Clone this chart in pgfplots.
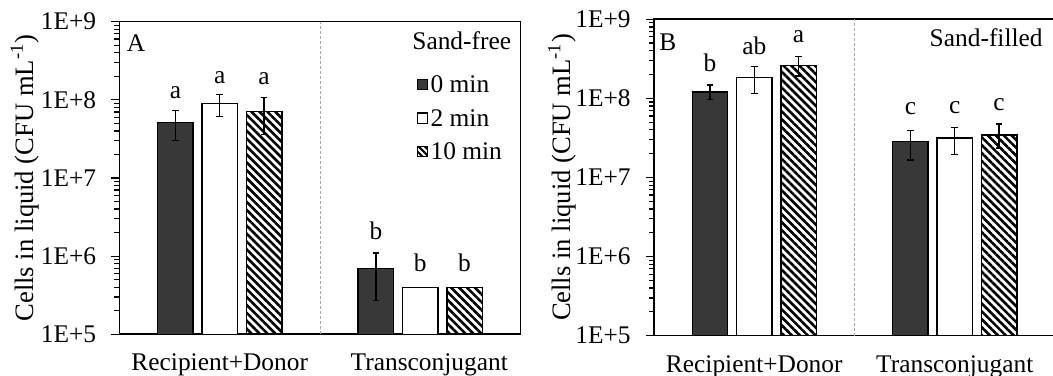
\documentclass[border=0pt]{standalone}
\usepackage{fontspec}
\setmainfont{Liberation Serif}
\usepackage{pgfplots}
\pgfplotsset{compat=1.18}
\usepackage{pgfplotstable}
\usetikzlibrary{patterns.meta}
\definecolor{darkbar}{HTML}{383838}

% Panel A (sand-free)
\pgfplotstableread{
x y ep em
-0.221 5.1e7 2.2e7 2.1e7
0.779 7.0e5 4.0e5 4.3e5
}\Aa
\pgfplotstableread{
x y ep em
0 8.9e7 2.8e7 2.8e7
1 4.0e5 0 0
}\Ab
\pgfplotstableread{
x y ep em
0.221 7.1e7 3.7e7 3.5e7
1.221 4.0e5 0 0
}\Ac
\pgfplotstableread{
x y lab
-0.221 1.05e8 a
0 1.63e8 a
0.221 1.55e8 a
0.779 1.64e6 b
1 6.3e5 b
1.221 6.3e5 b
}\Alab

% Panel B (sand-filled)
\pgfplotstableread{
x y ep em
-0.221 1.2e8 0.28e8 0.24e8
0.779 2.83e7 1.1e7 1.16e7
}\Ba
\pgfplotstableread{
x y ep em
0 1.83e8 0.69e8 0.67e8
1 3.14e7 1.13e7 1.2e7
}\Bb
\pgfplotstableread{
x y ep em
0.221 2.62e8 0.75e8 0.70e8
1.221 3.46e7 1.26e7 1.11e7
}\Bc
\pgfplotstableread{
x y lab
-0.221 2.18e8 b
0 3.54e8 ab
0.221 5.06e8 a
0.779 6.17e7 c
1 6.5e7 c
1.221 7.1e7 c
}\Blab

\begin{document}
\fontsize{12.7}{15.2}\selectfont
\begin{tikzpicture}
\useasboundingbox (0,0) rectangle (526.5pt,187.5pt);

% ---------- Panel A ----------
\begin{axis}[
  scale only axis, width=200.5pt, height=156.3pt,
  at={(59.75pt,20.35pt)}, anchor=south west,
  ymode=log, log origin=infty, ymin=1e5, ymax=1e9, xmin=-0.5, xmax=1.5,
  xtick={0,1}, xticklabels={Recipient+Donor, \hspace*{9pt}Transconjugant},
  ytick={1e5,1e6,1e7,1e8,1e9}, yticklabels={1E+5,1E+6,1E+7,1E+8,1E+9},
  ytick pos=left, tick align=outside,
  major x tick style={draw=none},
  major tick length=4pt, minor tick length=2.5pt,
  tick style={black, line width=0.6pt},
  axis line style={line width=0.8pt},
  xticklabel style={anchor=base, inner sep=0pt, yshift=-14.3pt},
  yticklabel style={inner sep=0pt, anchor=east, xshift=-7.5pt},
  ylabel={Cells in liquid (CFU mL\textsuperscript{-1})},
  every axis y label/.style={at={(axis description cs:-0.236,0.5)}, rotate=90, anchor=center, font=\fontsize{13.3}{16}\selectfont},
  clip=false,
  legend style={at={(axis description cs:0.741,0.83)}, anchor=north west,
    draw=none, fill=none, inner sep=0pt, outer sep=0pt, row sep=7.75pt,
    nodes={inner sep=0pt, text height=9pt, text depth=0pt},
    /tikz/every odd column/.append style={column sep=1.2pt}},
  legend cell align=left,
]
\addplot[forget plot, ybar, bar width=0.177, bar shift=0pt, draw=black, line width=0.7pt, fill=darkbar,
  error bars/.cd, y dir=both, y explicit, error mark=-,
  error bar style={line width=0.7pt, black, solid},
  error mark options={rotate=90, line width=0.7pt, mark size=1.7pt, black}]
  table[x=x, y=y, y error plus=ep, y error minus=em] {\Aa};
\addplot[forget plot, ybar, bar width=0.177, bar shift=0pt, draw=black, line width=0.7pt, fill=white,
  error bars/.cd, y dir=both, y explicit, error mark=-,
  error bar style={line width=0.7pt, black, solid},
  error mark options={rotate=90, line width=0.7pt, mark size=1.7pt, black}]
  table[x=x, y=y, y error plus=ep, y error minus=em] {\Ab};
\addplot[forget plot, ybar, bar width=0.177, bar shift=0pt, draw=black, line width=0.7pt,
  pattern={Lines[angle=-45, distance=2.8pt, line width=1.3pt]}, pattern color=black,
  error bars/.cd, y dir=both, y explicit, error mark=-,
  error bar style={line width=0.7pt, black, solid},
  error mark options={rotate=90, line width=0.7pt, mark size=1.7pt, black}]
  table[x=x, y=y, y error plus=ep, y error minus=em] {\Ac};
\addplot[forget plot, gray!70, line width=0.5pt, dash pattern=on 1.5pt off 1pt] coordinates {(0.5,1e5) (0.5,1e9)};
\addplot[forget plot, only marks, mark=none, nodes near coords, point meta=explicit symbolic,
  nodes near coords style={anchor=base, inner sep=0pt, black}]
  table[x=x, y=y, meta=lab] {\Alab};
\addlegendimage{legend image code/.code={\draw[fill=darkbar, line width=0.6pt] (0pt,-3pt) rectangle (5.2pt,2.2pt);}}
\addlegendentry{0 min}
\addlegendimage{legend image code/.code={\draw[fill=white, line width=0.6pt] (0pt,-3pt) rectangle (5.2pt,2.2pt);}}
\addlegendentry{2 min}
\addlegendimage{legend image code/.code={\draw[pattern={Lines[angle=-45, distance=2.2pt, line width=1pt]}, pattern color=black, line width=0.6pt] (0pt,-3pt) rectangle (5.2pt,2.2pt);}}
\addlegendentry{10 min}
\node[anchor=north west, inner sep=0pt] at ([shift={(3.5pt,-6.5pt)}]rel axis cs:0,1) {A};
\node[anchor=north east, inner sep=0pt] at ([shift={(-4.5pt,-5pt)}]rel axis cs:1,1) {Sand-free};
\end{axis}

% ---------- Panel B ----------
\begin{axis}[
  scale only axis, width=200.5pt, height=158.2pt,
  at={(327pt,19.65pt)}, anchor=south west,
  ymode=log, log origin=infty, ymin=1e5, ymax=1e9, xmin=-0.5, xmax=1.5,
  xtick={0,1}, xticklabels={Recipient+Donor, Transconjugant},
  ytick={1e5,1e6,1e7,1e8,1e9}, yticklabels={1E+5,1E+6,1E+7,1E+8,1E+9},
  ytick pos=left, tick align=outside,
  major x tick style={draw=none},
  major tick length=4pt, minor tick length=2.5pt,
  tick style={black, line width=0.6pt},
  axis line style={line width=0.8pt},
  xticklabel style={anchor=base, inner sep=0pt, yshift=-14.3pt},
  yticklabel style={inner sep=0pt, anchor=east, xshift=-7.5pt},
  ylabel={Cells in liquid (CFU mL\textsuperscript{-1})},
  every axis y label/.style={at={(axis description cs:-0.229,0.5)}, rotate=90, anchor=center, font=\fontsize{13.3}{16}\selectfont},
  clip=false,
]
\addplot[ybar, bar width=0.177, bar shift=0pt, draw=black, line width=0.7pt, fill=darkbar,
  error bars/.cd, y dir=both, y explicit, error mark=-,
  error bar style={line width=0.7pt, black, solid},
  error mark options={rotate=90, line width=0.7pt, mark size=1.7pt, black}]
  table[x=x, y=y, y error plus=ep, y error minus=em] {\Ba};
\addplot[ybar, bar width=0.177, bar shift=0pt, draw=black, line width=0.7pt, fill=white,
  error bars/.cd, y dir=both, y explicit, error mark=-,
  error bar style={line width=0.7pt, black, solid},
  error mark options={rotate=90, line width=0.7pt, mark size=1.7pt, black}]
  table[x=x, y=y, y error plus=ep, y error minus=em] {\Bb};
\addplot[ybar, bar width=0.177, bar shift=0pt, draw=black, line width=0.7pt,
  pattern={Lines[angle=-45, distance=2.8pt, line width=1.3pt]}, pattern color=black,
  error bars/.cd, y dir=both, y explicit, error mark=-,
  error bar style={line width=0.7pt, black, solid},
  error mark options={rotate=90, line width=0.7pt, mark size=1.7pt, black}]
  table[x=x, y=y, y error plus=ep, y error minus=em] {\Bc};
\addplot[forget plot, gray!70, line width=0.5pt, dash pattern=on 1.5pt off 1pt] coordinates {(0.5,1e5) (0.5,1e9)};
\addplot[forget plot, only marks, mark=none, nodes near coords, point meta=explicit symbolic,
  nodes near coords style={anchor=base, inner sep=0pt, black}]
  table[x=x, y=y, meta=lab] {\Blab};
\node[anchor=north west, inner sep=0pt] at ([shift={(2.5pt,-7pt)}]rel axis cs:0,1) {B};
\node[anchor=north east, inner sep=0pt] at ([shift={(-6pt,-4.5pt)}]rel axis cs:1,1) {Sand-filled};
\end{axis}
\end{tikzpicture}
\end{document}
